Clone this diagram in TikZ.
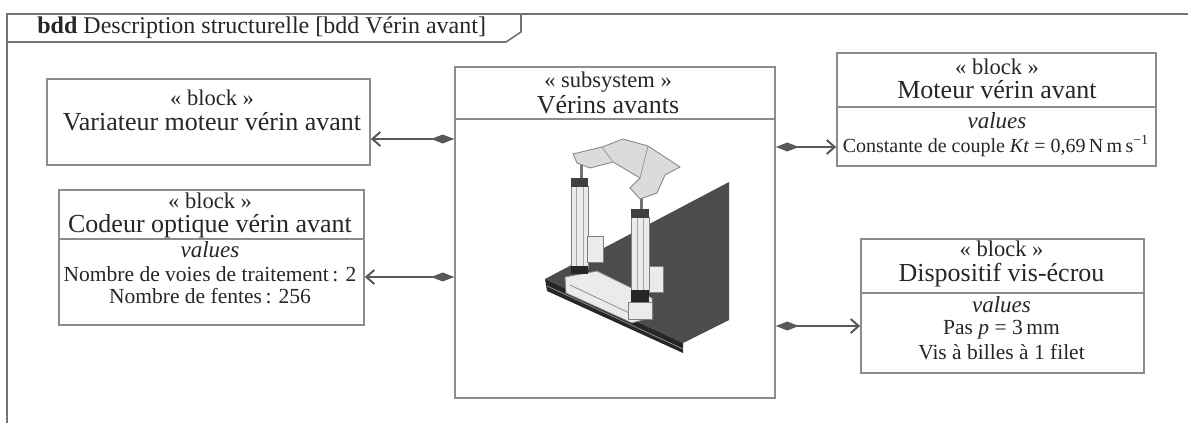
\documentclass[tikz,border=0pt]{standalone}
\usepackage{fontspec}
\setmainfont{Liberation Serif}
\usetikzlibrary{arrows.meta}

\begin{document}
\begin{tikzpicture}[x=0.5pt,y=-0.5pt,
  frameline/.style={draw=black!55,line width=0.8pt},
  blockbox/.style={draw=black!45,line width=0.8pt,inner sep=0pt},
  stereo/.style={anchor=base,inner sep=0pt,text=black!85,font=\fontsize{11.25pt}{13pt}\selectfont},
  bname/.style={anchor=base,inner sep=0pt,text=black!85,font=\fontsize{13pt}{15pt}\selectfont},
  valtag/.style={anchor=base,inner sep=0pt,text=black!85,font=\fontsize{11.5pt}{13pt}\selectfont\itshape},
  valline/.style={anchor=base,inner sep=0pt,text=black!85,font=\fontsize{10.75pt}{13pt}\selectfont},
  part/.style={fill=black!8,draw=black!50,line width=0.4pt},
  composes/.style={draw=black!65,line width=1pt,{Diamond[length=11.5pt,width=4.5pt]}-{Straight Barb[length=4pt,width=7pt]}}]
  \useasboundingbox (0,0) rectangle (1188,423);
  \draw[frameline] (7,423) -- (7,14) -- (1188,14);
  \draw[frameline] (7,42) -- (506,42) -- (521,32) -- (521,14);
  \draw (37,33) node[anchor=base west,inner sep=0pt,text=black!85,font=\fontsize{12pt}{14pt}\selectfont] (frametitle) {\textbf{bdd} Description structurelle [bdd Vérin avant]};

  \draw (208.5,122) node[blockbox,minimum width=161.5pt,minimum height=43pt] (var) {};
  \draw (212,105) node[stereo] (varst) {« block »};
  \draw (212,130) node[bname] (varnm) {Variateur moteur vérin avant};

  \draw (211.5,257.5) node[blockbox,minimum width=152.5pt,minimum height=67.5pt] (cod) {};
  \draw[blockbox] (cod.west |- 0,239) -- (cod.east |- 0,239);
  \draw (210,208) node[stereo] (codst) {« block »};
  \draw (210,232) node[bname] (codnm) {Codeur optique vérin avant};
  \draw (210,257) node[valtag] (codval) {values};
  \draw (210,281) node[valline] (codv1) {Nombre de voies de traitement\,: 2};
  \draw (210,303) node[valline] (codv2) {Nombre de fentes\,: 256};

  \draw (615,232.5) node[blockbox,minimum width=160pt,minimum height=165.5pt] (sub) {};
  \draw[blockbox] (sub.west |- 0,119) -- (sub.east |- 0,119);
  \draw (608,87) node[stereo] (subst) {« subsystem »};
  \draw (608,113) node[bname] (subnm) {Vérins avants};

  \draw (996.5,109.5) node[blockbox,minimum width=159.5pt,minimum height=56.5pt] (mot) {};
  \draw[blockbox] (mot.west |- 0,107) -- (mot.east |- 0,107);
  \draw (997,74) node[stereo] (motst) {« block »};
  \draw (997,98) node[bname] (motnm) {Moteur vérin avant};
  \draw (997,128) node[valtag] (motval) {values};
  \draw (996,152) node[valline,font=\fontsize{10pt}{12pt}\selectfont] (motv1) {Constante de couple \textit{Kt} = 0,69\,N\,m\,s\textsuperscript{−1}};

  \draw (1002.5,306) node[blockbox,minimum width=141.5pt,minimum height=67pt] (dis) {};
  \draw[blockbox] (dis.west |- 0,293) -- (dis.east |- 0,293);
  \draw (1001.5,256) node[stereo] (disst) {« block »};
  \draw (1001.5,281) node[bname] (disnm) {Dispositif vis-écrou};
  \draw (1001.5,312) node[valtag] (disval) {values};
  \draw (1001.5,334) node[valline] (disv1) {Pas \textit{p} = 3\,mm};
  \draw (1001.5,359) node[valline] (disv2) {Vis à billes à 1 filet};

  \draw[composes] (sub.west |- 0,139) -- (var.east |- 0,139);
  \draw[composes] (sub.west |- 0,277) -- (cod.east |- 0,277);
  \draw[composes] (sub.east |- 0,147) -- (mot.west |- 0,147);
  \draw[composes] (sub.east |- 0,326) -- (dis.west |- 0,326);

  \fill[black!70] (545,279) -- (729,182) -- (729,320) -- (683,343) -- cycle;
  \fill[black!85] (545,279) -- (683,343) -- (683,353) -- (547,291) -- cycle;
  \draw[black!45] (547,286) -- (683,349);
  \filldraw[part] (565,277) -- (597,271) -- (652,298) -- (653,317) -- (632,323) -- (566,293) -- cycle;
  \draw[black!45] (570,285) -- (640,318);
  \filldraw[part] (571,186) rectangle (588,268);
  \draw[black!35] (576,187) -- (576,266) (583,187) -- (583,266);
  \fill[black!75] (571,178) rectangle (588,187);
  \fill[black!85] (571,266) rectangle (588,274);
  \filldraw[part] (587,236) rectangle (603,262);
  \draw[black!55,line width=1.5pt] (581,160) -- (581,178);
  \filldraw[part] (628,302) rectangle (652,319);
  \filldraw[part] (631,217) rectangle (649,292);
  \draw[black!35] (637,218) -- (637,290) (643,218) -- (643,290);
  \fill[black!75] (631,209) rectangle (649,218);
  \fill[black!85] (631,290) rectangle (649,302);
  \filldraw[part] (649,266) rectangle (663,292);
  \draw[black!55,line width=1.5pt] (641,192) -- (641,209);
  \filldraw[fill=black!14,draw=black!50,line width=0.4pt] (573,154) -- (602,147) -- (623,139) -- (648,146) -- (680,167) -- (665,175) -- (657,193) -- (640,199) -- (630,188) -- (640,178) -- (613,162) -- (590,168) -- (577,163) -- cycle;
  \draw[black!40] (602,147) -- (613,162) (648,146) -- (640,178);
\end{tikzpicture}
\end{document}
